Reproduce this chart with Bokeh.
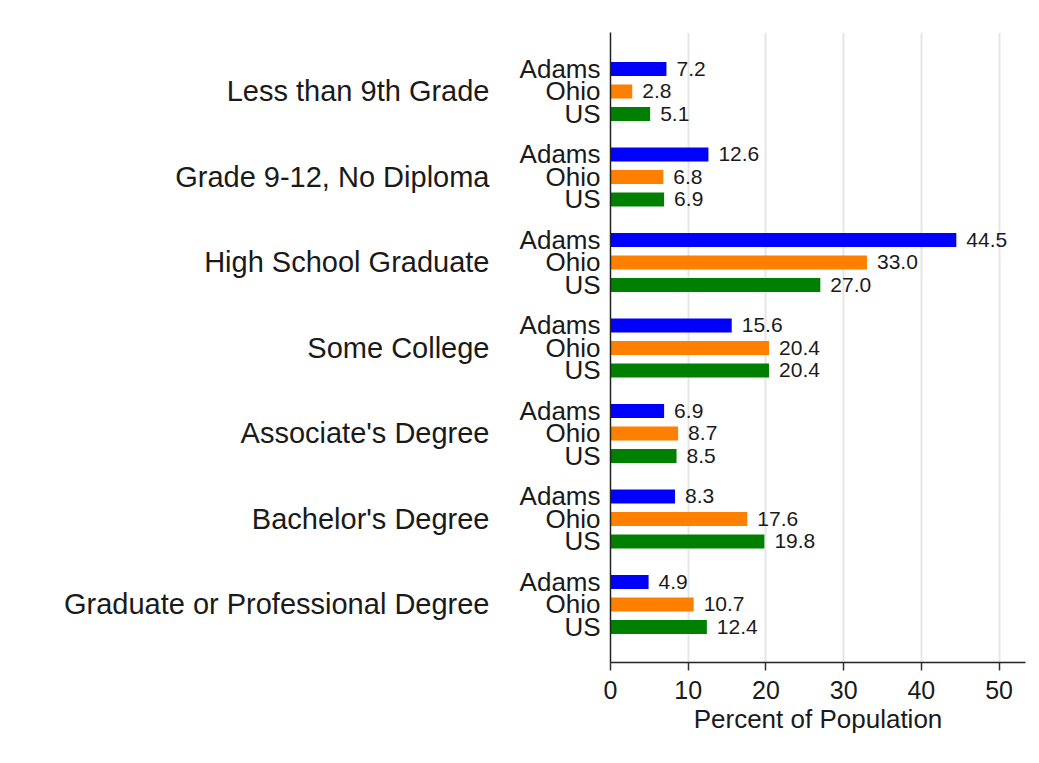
from bokeh.plotting import figure
from bokeh.models import ColumnDataSource, LinearAxis, FixedTicker, Range1d
from bokeh.core.properties import value
from bokeh.embed import file_html
from bokeh.resources import INLINE

# ---- data ----
categories = [
    "Less than 9th Grade",
    "Grade 9-12, No Diploma",
    "High School Graduate",
    "Some College",
    "Associate's Degree",
    "Bachelor's Degree",
    "Graduate or Professional Degree",
]
regions = ["Adams", "Ohio", "US"]
adams = [7.2, 12.6, 44.5, 15.6, 6.9, 8.3, 4.9]
ohio = [2.8, 6.8, 33.0, 20.4, 8.7, 17.6, 10.7]
us = [5.1, 6.9, 27.0, 20.4, 8.5, 19.8, 12.4]
region_colors = ["#0000ff", "#ff7f00", "#008000"]
x_ticks = [0, 10, 20, 30, 40, 50]
x_label = "Percent of Population"

# ---- layout of the nested categorical positions ----
GROUP_STEP = 19
MEMBER_STEP = 5
FONT = "Liberation Sans"

series = [adams, ohio, us]
ys, vals, cols, txt = [], [], [], []
sub_overrides = {}
group_overrides = {}
group_ticks = []
for g, cat in enumerate(categories):
    gc = -(GROUP_STEP * g + MEMBER_STEP)
    group_ticks.append(gc)
    group_overrides[gc] = cat
    for m, reg in enumerate(regions):
        y = -(GROUP_STEP * g + MEMBER_STEP * m)
        ys.append(y)
        v = series[m][g]
        vals.append(v)
        cols.append(region_colors[m])
        txt.append(f"{v:.1f}")
        sub_overrides[y] = reg

src = ColumnDataSource(dict(y=ys, v=vals, c=cols, t=txt))

p = figure(
    width=1031, height=755,
    x_range=Range1d(0, 53.4), y_range=Range1d(-131.9, 8.1),
    output_backend="svg", toolbar_location=None,
    min_border_left=610, min_border_right=6, min_border_top=32, min_border_bottom=93,
)
p.outline_line_color = None
p.background_fill_color = "white"
p.border_fill_color = "white"

p.hbar(y="y", left=0, right="v", height=3.1, fill_color="c", line_color=None, source=src)
p.text(x="v", y="y", text="t", x_offset=10, text_baseline="middle", text_align="left",
       text_font=value(FONT), text_font_size="21px", text_color="#1a1a1a", source=src)

# grids
p.ygrid.grid_line_color = None
p.xgrid.grid_line_color = "#e6e6e6"
p.xgrid.grid_line_width = 2
p.xgrid.ticker = FixedTicker(ticks=x_ticks)

# x axis
xa = p.xaxis[0]
xa.ticker = FixedTicker(ticks=x_ticks)
xa.axis_label = x_label
xa.axis_label_text_font = FONT
xa.axis_label_text_font_style = "normal"
xa.axis_label_text_font_size = "26px"
xa.axis_label_text_color = "#1a1a1a"
xa.axis_label_standoff = 2
xa.major_label_text_font = FONT
xa.major_label_text_font_size = "25px"
xa.major_label_text_color = "#1a1a1a"
xa.major_label_standoff = 10
xa.major_tick_out = 8
xa.major_tick_in = 0
xa.major_tick_line_color = "#333333"
xa.major_tick_line_width = 1.5
xa.minor_tick_line_color = None
xa.axis_line_color = "#222222"
xa.axis_line_width = 1.5

# inner y axis: region names
ya = p.yaxis[0]
ya.ticker = FixedTicker(ticks=ys)
ya.major_label_overrides = sub_overrides
ya.major_label_text_font = FONT
ya.major_label_text_font_size = "26px"
ya.major_label_text_color = "#1a1a1a"
ya.major_label_standoff = 10
ya.major_tick_line_color = None
ya.major_tick_out = 0
ya.major_tick_in = 0
ya.minor_tick_line_color = None
ya.axis_line_color = "#222222"
ya.axis_line_width = 1.5

# outer y axis: education categories
ga = LinearAxis(ticker=FixedTicker(ticks=group_ticks), major_label_overrides=group_overrides)
ga.major_label_text_font = FONT
ga.major_label_text_font_size = "29px"
ga.major_label_text_color = "#1a1a1a"
ga.major_label_standoff = 27
ga.major_tick_line_color = None
ga.major_tick_out = 0
ga.major_tick_in = 0
ga.minor_tick_line_color = None
ga.axis_line_color = None
p.add_layout(ga, "left")

open("out.html", "w").write(file_html(p, INLINE))
